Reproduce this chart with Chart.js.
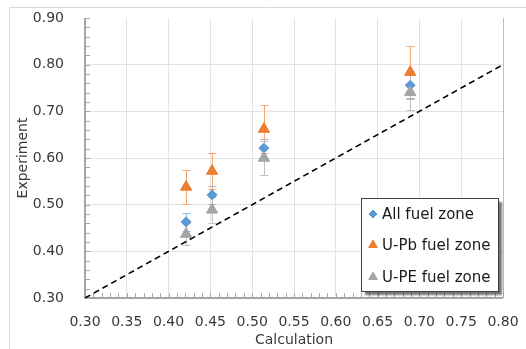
<!DOCTYPE html>
<html>
<head>
<meta charset="utf-8">
<script src="https://cdn.jsdelivr.net/npm/chart.js@4/dist/chart.umd.min.js"></script>
<style>
  html, body { margin: 0; padding: 0; background: #fff; }
  #wrap { width: 526px; height: 349px; position: relative; }
</style>
</head>
<body>
<div id="wrap"><canvas id="c" width="526" height="349"></canvas></div>
<script>
// Calculated vs. measured values for each fuel zone set
const calcValues = [0.421, 0.452, 0.514, 0.689];
const allFuel    = [0.463, 0.521, 0.621, 0.756];
const allFuelErr = [0.019, 0.020, 0.020, 0.030];
const uPbFuel    = [0.538, 0.572, 0.662, 0.784];
const uPbFuelErr = [0.036, 0.039, 0.051, 0.056];
const uPeFuel    = [0.437, 0.489, 0.600, 0.741];
const uPeFuelErr = [0.024, 0.028, 0.036, 0.039];
const seriesNames = ['All fuel zone', 'U-Pb fuel zone', 'U-PE fuel zone'];
const refLine = [0.30, 0.80];
const xTicks = [0.30, 0.35, 0.40, 0.45, 0.50, 0.55, 0.60, 0.65, 0.70, 0.75, 0.80];
const yTicks = [0.30, 0.40, 0.50, 0.60, 0.70, 0.80, 0.90];

const BLUE = '#5B9BD5', ORANGE = '#ED7D31', GRAY = '#A5A5A5';
const FONT = 'DejaVu Sans';

function pts(ys) { return calcValues.map((x, i) => ({ x: x, y: ys[i] })); }

const errorSets = [
  { dataset: 0, err: allFuelErr, color: '#8DB9E3' },
  { dataset: 1, err: uPbFuelErr, color: '#F2A673' },
  { dataset: 2, err: uPeFuelErr, color: '#BFBFBF' }
];

// Vertical error bars with caps, drawn behind the markers
const errorBars = {
  id: 'errorBars',
  beforeDatasetsDraw(chart) {
    const ctx = chart.ctx, xs = chart.scales.x, ys = chart.scales.y;
    ctx.save();
    ctx.lineWidth = 1;
    errorSets.forEach(s => {
      const data = chart.data.datasets[s.dataset].data;
      ctx.strokeStyle = s.color;
      data.forEach((p, i) => {
        const px = Math.round(xs.getPixelForValue(p.x)) + 0.5;
        const top = ys.getPixelForValue(p.y + s.err[i]);
        const bot = ys.getPixelForValue(p.y - s.err[i]);
        ctx.beginPath();
        ctx.moveTo(px, top); ctx.lineTo(px, bot);
        ctx.moveTo(px - 4, Math.round(top) + 0.5); ctx.lineTo(px + 4, Math.round(top) + 0.5);
        ctx.moveTo(px - 4, Math.round(bot) + 0.5); ctx.lineTo(px + 4, Math.round(bot) + 0.5);
        ctx.stroke();
      });
    });
    ctx.restore();
  }
};

// Frame, axis lines and minor tick marks
const frame = {
  id: 'frame',
  beforeDraw(chart) {
    const ctx = chart.ctx;
    ctx.save();
    ctx.fillStyle = '#fff';
    ctx.fillRect(0, 0, chart.width, chart.height);
    ctx.strokeStyle = '#d9d9d9';
    ctx.lineWidth = 1;
    ctx.beginPath();
    ctx.moveTo(9.5, chart.height); ctx.lineTo(9.5, 7.5); ctx.lineTo(chart.width, 7.5);
    ctx.stroke();
    ctx.restore();
  },
  beforeDatasetsDraw(chart) {
    const ctx = chart.ctx, xs = chart.scales.x, ys = chart.scales.y;
    const a = chart.chartArea;
    ctx.save();
    ctx.strokeStyle = '#a6a6a6';
    ctx.lineWidth = 1;
    ctx.beginPath();
    for (let v = 30; v <= 90; v += 2) {
      const py = Math.round(ys.getPixelForValue(v / 100)) + 0.5;
      ctx.moveTo(a.left, py); ctx.lineTo(a.left + 5, py);
    }
    for (let v = 30; v <= 80; v += 1) {
      const px = Math.round(xs.getPixelForValue(v / 100)) + 0.5;
      ctx.moveTo(px, a.bottom); ctx.lineTo(px, a.bottom - 5);
    }
    ctx.stroke();
    ctx.lineWidth = 2;
    ctx.beginPath();
    ctx.moveTo(a.left, a.top); ctx.lineTo(a.left, a.bottom + 1);
    ctx.moveTo(a.left - 1, a.bottom); ctx.lineTo(a.right, a.bottom);
    ctx.stroke();
    ctx.restore();
  }
};

// Legend box placed inside the lower right of the plot
const insideLegend = {
  id: 'insideLegend',
  afterDatasetsDraw(chart) {
    const ctx = chart.ctx;
    const bx = 361.5, by = 198.5, bw = 137, bh = 93;
    ctx.save();
    ctx.shadowColor = 'rgba(0,0,0,0.55)';
    ctx.shadowOffsetX = 3; ctx.shadowOffsetY = 3; ctx.shadowBlur = 2;
    ctx.fillStyle = '#fff';
    ctx.fillRect(bx, by, bw, bh);
    ctx.shadowColor = 'transparent';
    ctx.strokeStyle = '#404040';
    ctx.lineWidth = 1;
    ctx.strokeRect(bx, by, bw, bh);
    const rows = [214, 245, 277];
    const styles = [
      { s: 'rectRot', r: 4, c: BLUE },
      { s: 'triangle', r: 5, c: ORANGE },
      { s: 'triangle', r: 5, c: GRAY }
    ];
    ctx.font = '15px ' + FONT;
    ctx.textBaseline = 'middle';
    rows.forEach((y, i) => {
      ctx.fillStyle = styles[i].c;
      ctx.strokeStyle = styles[i].c;
      Chart.helpers.drawPoint(ctx, { pointStyle: styles[i].s, radius: styles[i].r, borderWidth: 1 }, 373, y);
      ctx.fillStyle = '#1a1a1a';
      ctx.fillText(seriesNames[i], 382, y + 1);
    });
    ctx.restore();
  }
};

new Chart(document.getElementById('c'), {
  type: 'scatter',
  data: {
    datasets: [
      { label: seriesNames[0], data: pts(allFuel), pointStyle: 'rectRot', pointRadius: 5,
        backgroundColor: BLUE, borderColor: BLUE, borderWidth: 1, order: 3 },
      { label: seriesNames[1], data: pts(uPbFuel), pointStyle: 'triangle', pointRadius: 6.5,
        backgroundColor: ORANGE, borderColor: ORANGE, borderWidth: 1, order: 2 },
      { label: seriesNames[2], data: pts(uPeFuel), pointStyle: 'triangle', pointRadius: 6.5,
        backgroundColor: GRAY, borderColor: GRAY, borderWidth: 1, order: 1 },
      { label: 'y = x', type: 'line', data: refLine.map(v => ({ x: v, y: v })),
        borderColor: '#000', borderWidth: 1.6, borderDash: [6, 4], pointRadius: 0,
        fill: false, order: 10 }
    ]
  },
  options: {
    responsive: false,
    animation: false,
    layout: { padding: { left: 10, top: 18, right: 23, bottom: 0 } },
    plugins: { legend: { display: false }, tooltip: { enabled: false } },
    scales: {
      x: {
        type: 'linear', min: 0.30, max: 0.80,
        afterBuildTicks(s) { s.ticks = xTicks.map(v => ({ value: v })); },
        afterFit(s) { s.height = 51; s.paddingLeft = 0; s.paddingRight = 0; },
        border: { display: false },
        grid: { color: ctx => (ctx.tick && ctx.tick.value === 0.8) ? '#bfbfbf' : '#e3e3e3', drawTicks: false },
        ticks: { padding: 16, color: '#3a3a3a', font: { family: FONT, size: 14 },
                 callback: v => v.toFixed(2), maxRotation: 0 },
        title: { display: true, text: 'Calculation', color: '#3a3a3a',
                 font: { family: FONT, size: 14 }, padding: { top: 0, bottom: 0 } }
      },
      y: {
        type: 'linear', min: 0.30, max: 0.90,
        afterBuildTicks(s) { s.ticks = yTicks.map(v => ({ value: v })); },
        afterFit(s) { s.width = 75; s.paddingTop = 0; s.paddingBottom = 0; },
        border: { display: false },
        grid: { color: ctx => (ctx.tick && Math.abs(ctx.tick.value - 0.9) < 1e-6) ? 'rgba(0,0,0,0)' : '#e3e3e3', drawTicks: false },
        ticks: { padding: 21, color: '#3a3a3a', font: { family: FONT, size: 14 },
                 callback: v => v.toFixed(2) },
        title: { display: true, text: 'Experiment', color: '#3a3a3a',
                 font: { family: FONT, size: 14 }, padding: { top: 5, bottom: 0 } }
      }
    }
  },
  plugins: [frame, errorBars, insideLegend]
});
</script>
</body>
</html>
